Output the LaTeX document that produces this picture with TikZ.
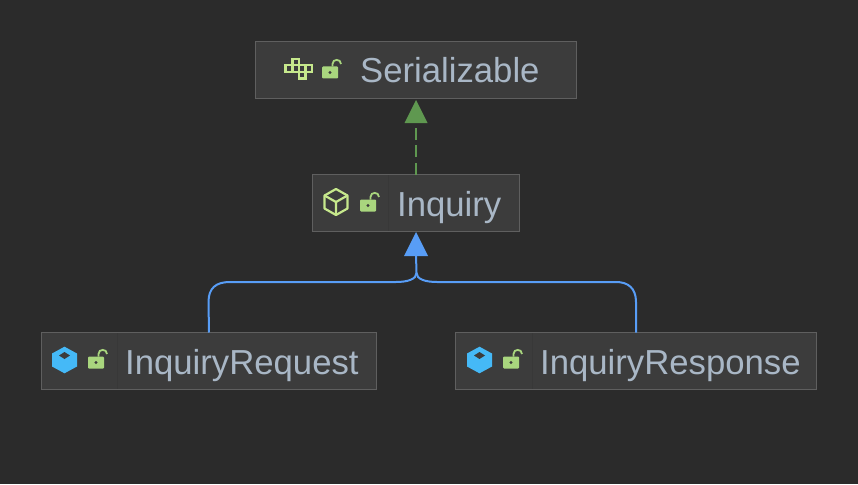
\documentclass[tikz,border=0pt]{standalone}
\usepackage{fontspec}
\setmainfont{Liberation Sans}
\usetikzlibrary{arrows.meta}
\definecolor{bgc}{HTML}{2B2B2B}
\definecolor{boxc}{HTML}{3C3C3C}
\definecolor{boxd}{HTML}{5F5F5F}
\definecolor{divc}{HTML}{383838}
\definecolor{txtc}{HTML}{A9B7C6}
\definecolor{lockc}{HTML}{A9D67E}
\definecolor{limec}{HTML}{C6E88C}
\definecolor{cubec}{HTML}{45B9F7}
\definecolor{implc}{HTML}{5F9850}
\definecolor{extc}{HTML}{589DF6}
\tikzset{
  x=1pt,y=-1pt,
  classbox/.style={draw=boxd,fill=boxc,line width=1.2pt,minimum height=57pt,inner sep=0pt,outer sep=0pt},
  classname/.style={text=txtc,font=\fontsize{34.7}{38}\selectfont,inner sep=0pt,anchor=base west},
  implline/.style={draw=implc,line width=2.2pt,dash pattern=on 12pt off 5.5pt},
  exttip/.style={fill=extc,draw=none},
  impltip/.style={fill=implc,draw=none},
  extline/.style={draw=extc,line width=2pt},
  pics/lockicon/.style={code={
    \fill[lockc,rounded corners=1pt] (-8,-5.5) rectangle (8,6.5);
    \draw[lockc,line width=1.8pt] (2.5,-5.5) -- (2.5,-8) .. controls (2.5,-13.5) and (11,-13.5) .. (11,-8);
    \fill[boxc] (0,0.5) circle[radius=1.7];
  }},
  pics/cubeicon/.style={code={
    \fill[cubec] (0,-13.3) -- (12.5,-6.5) -- (12.5,6.5) -- (0,13.3) -- (-12.5,6.5) -- (-12.5,-6.5) -- cycle;
    \fill[boxc] (0,-8) -- (5.5,-4.5) -- (0,-1) -- (-5.5,-4.5) -- cycle;
  }},
  pics/ifaceicon/.style={code={
    \draw[limec,line width=2.2pt,line join=round] (0,-13) -- (11.5,-6.5) -- (11.5,6.5) -- (0,13) -- (-11.5,6.5) -- (-11.5,-6.5) -- cycle;
    \draw[limec,line width=2.2pt,line join=round] (-11.5,-6.5) -- (0,0) -- (11.5,-6.5) (0,0) -- (0,13);
  }},
  pics/traiticon/.style={code={
    \draw[limec,line width=2.6pt] (8.5,-13) rectangle (15,-7);
    \draw[limec,line width=2.6pt] (1.5,-7) rectangle (28,0);
    \draw[limec,line width=2.6pt] (8.5,-7) -- (8.5,0) (15,-7) -- (15,0) (21.5,-7) -- (21.5,0);
    \draw[limec,line width=2.6pt] (15,0) rectangle (21.5,6.5);
  }}
}
\begin{document}
\begin{tikzpicture}
\useasboundingbox (0,0) rectangle (858,484);
\fill[bgc] (0,0) rectangle (858,484);

\node[classbox,minimum width=321pt] (ser) at (416,70) {};
\node[classbox,minimum width=207pt] (inq) at (416,203) {};
\node[classbox,minimum width=335pt] (req) at (209,361) {};
\node[classbox,minimum width=361pt] (res) at (636,361) {};

\draw[divc,line width=1pt] (388,175) -- (388,231);
\draw[divc,line width=1pt] (117,333) -- (117,389);
\draw[divc,line width=1pt] (532,333) -- (532,389);

\node[classname] (sertext) at (360,83) {Serializable};
\node[classname] (inqtext) at (397,216) {Inquiry};
\node[classname] (reqtext) at (125,374) {InquiryRequest};
\node[classname] (restext) at (540,374) {InquiryResponse};

\pic at (284,72) {traiticon};
\pic at (330,72) {lockicon};
\pic at (336,202) {ifaceicon};
\pic at (368,205) {lockicon};
\pic at (64.5,360) {cubeicon};
\pic at (96,362) {lockicon};
\pic at (479.5,360) {cubeicon};
\pic at (511,362) {lockicon};

\coordinate (imptip) at ([yshift=-1.5pt]ser.south);
\coordinate (exttip) at ([yshift=-0.5pt]inq.south);
\coordinate (joint) at (416.5,273);

\draw[implline] (inq.north) -- ([yshift=-23pt]imptip);
\fill[impltip] (imptip) -- ++(11.5,23) -- ++(-23,0) -- cycle;

\draw[extline] (req.north) -- (208.5,302) .. controls (208.5,288) and (216,282) .. (230,282) -- (396,282) .. controls (408,282) and (416.5,279) .. (joint);
\draw[extline] (res.north) -- (636,302) .. controls (636,288) and (628,282) .. (616,282) -- (437,282) .. controls (425,282) and (416.5,279) .. (joint);
\draw[extline] (joint) -- ([yshift=-23pt]exttip);
\fill[exttip] (exttip) -- ++(12,24) -- ++(-24,0) -- cycle;
\end{tikzpicture}
\end{document}
